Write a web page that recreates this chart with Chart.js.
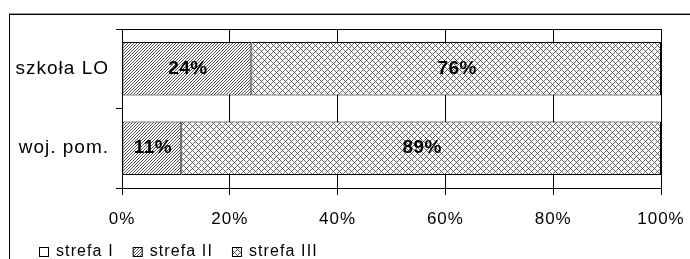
<!DOCTYPE html>
<html>
<head>
<meta charset="utf-8">
<script src="https://cdn.jsdelivr.net/npm/chart.js@4"></script>
<style>
  html, body { margin: 0; padding: 0; background: #fff; }
  canvas { display: block; }
</style>
</head>
<body>
<canvas id="chart" width="690" height="259"></canvas>
<script>
const categories = ["szkoła LO", "woj. pom."];
const seriesNames = ["strefa I", "strefa II", "strefa III"];
const strefa1 = [0, 0];
const strefa2 = [24, 11];
const strefa3 = [76, 89];
const xTicks = [0, 20, 40, 60, 80, 100];

const family = "'Liberation Sans', Arial, sans-serif";
const canvas = document.getElementById("chart");
const ctx = canvas.getContext("2d");

function makePattern(size, draw) {
  const c = document.createElement("canvas");
  c.width = size;
  c.height = size;
  const g = c.getContext("2d");
  g.fillStyle = "#fff";
  g.fillRect(0, 0, size, size);
  draw(g);
  return ctx.createPattern(c, "repeat");
}

// fine "/" hatching for strefa II
const diagPattern = makePattern(3, (g) => {
  g.fillStyle = "#555";
  for (let i = 0; i < 3; i++) g.fillRect(i, 2 - i, 1, 1);
});

// crosshatch for strefa III
const crossPattern = makePattern(6, (g) => {
  g.fillStyle = "#6a6a6a";
  for (let i = 0; i < 6; i++) {
    g.fillRect(i, i, 1, 1);
    g.fillRect(i, (6 - i) % 6, 1, 1);
  }
  g.fillStyle = "#444";
  g.fillRect(0, 0, 1, 1);
  g.fillRect(3, 3, 1, 1);
});

const fills = ["#fff", diagPattern, crossPattern];
const seriesData = [strefa1, strefa2, strefa3];
const spacingPx = "1px";

const spacing = {
  id: "spacing",
  beforeInit(chart) { chart.ctx.letterSpacing = spacingPx; },
  beforeUpdate(chart) { chart.ctx.letterSpacing = spacingPx; },
  beforeDraw(chart) { chart.ctx.letterSpacing = spacingPx; },
};

const frame = {
  id: "frame",
  beforeDraw(chart) {
    const c = chart.ctx;
    c.save();
    c.fillStyle = "#fff";
    c.fillRect(0, 0, chart.width, chart.height);
    c.fillStyle = "#999";
    c.fillRect(9, 13, chart.width - 9, 1);
    c.fillStyle = "#000";
    c.fillRect(9, 14, chart.width - 9, 1);
    c.fillRect(9, 14, 1, chart.height - 14);
    c.restore();
  },
  afterDraw(chart) {
    const a = chart.chartArea;
    const c = chart.ctx;
    c.save();
    c.fillStyle = "#000";
    c.fillRect(a.left - 6, a.top, a.right - a.left + 7, 1);
    c.restore();
  },
};

const barLabels = {
  id: "barLabels",
  afterDatasetsDraw(chart) {
    const c = chart.ctx;
    c.save();
    c.letterSpacing = "0.5px";
    c.font = "bold 19px " + family;
    c.fillStyle = "#000";
    c.textAlign = "center";
    c.textBaseline = "middle";
    chart.data.datasets.forEach((ds, i) => {
      chart.getDatasetMeta(i).data.forEach((bar, j) => {
        const v = ds.data[j];
        if (!v) return;
        const p = bar.getProps(["x", "y", "base"], true);
        c.fillText(v + "%", (p.x + p.base) / 2 + 1, p.y);
      });
    });
    c.restore();
  },
};

const legendBox = {
  id: "legendBox",
  afterDraw(chart) {
    const c = chart.ctx;
    c.save();
    c.letterSpacing = "1.1px";
    c.font = "16px " + family;
    c.textBaseline = "alphabetic";
    c.textAlign = "left";
    let x = 39;
    chart.data.datasets.forEach((ds) => {
      c.fillStyle = ds.backgroundColor;
      c.fillRect(x, 247, 10, 10);
      c.strokeStyle = "#000";
      c.lineWidth = 1;
      c.strokeRect(x + 0.5, 247.5, 9, 9);
      c.fillStyle = "#000";
      c.fillText(ds.label, x + 17, 256);
      x += 17 + c.measureText(ds.label).width + 19;
    });
    c.restore();
  },
};

new Chart(ctx, {
  type: "bar",
  data: {
    labels: categories,
    datasets: seriesNames.map((name, i) => ({
      label: name,
      data: seriesData[i],
      backgroundColor: fills[i],
      borderColor: "#000",
      borderWidth: 1,
      borderSkipped: false,
      barPercentage: 0.67,
      categoryPercentage: 1,
    })),
  },
  options: {
    indexAxis: "y",
    responsive: false,
    animation: false,
    devicePixelRatio: 1,
    layout: { padding: { top: 29, right: 0, left: 0, bottom: 0 } },
    scales: {
      x: {
        stacked: true,
        min: 0,
        max: 100,
        afterBuildTicks: (s) => { s.ticks = xTicks.map((v) => ({ value: v })); },
        afterFit: (s) => {
          s.height = 71;
          s.paddingLeft = 0;
          s.paddingRight = 29;
        },
        ticks: {
          callback: (v) => v + "%",
          color: "#000",
          font: { size: 17, family: family },
          padding: 14,
          maxRotation: 0,
        },
        grid: { color: "#000", tickLength: 7, lineWidth: 1 },
        border: { color: "#000" },
      },
      y: {
        stacked: true,
        afterFit: (s) => { s.width = 122; },
        ticks: { color: "#000", font: { size: 19, family: family }, padding: 7 },
        grid: { offset: true, drawOnChartArea: false, tickLength: 6, color: "#000" },
        border: { color: "#000" },
      },
    },
    plugins: { legend: { display: false }, tooltip: { enabled: false } },
  },
  plugins: [spacing, frame, barLabels, legendBox],
});
</script>
</body>
</html>
